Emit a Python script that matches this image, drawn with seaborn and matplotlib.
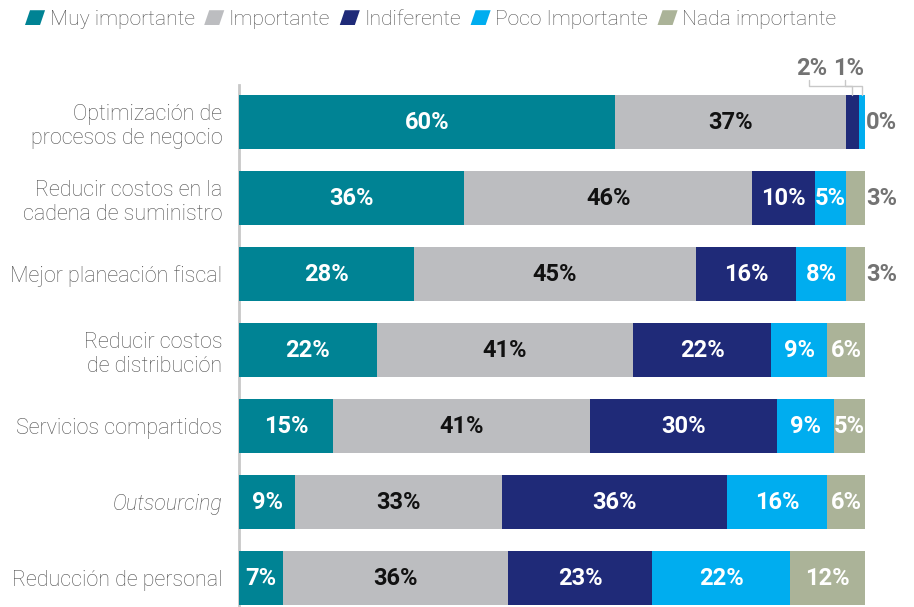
import matplotlib
matplotlib.use("Agg")
import matplotlib.pyplot as plt
from matplotlib.patches import Polygon, Patch
from matplotlib.legend_handler import HandlerPatch
import numpy as np
import pandas as pd
import seaborn as sns

categories = [
    "Optimización de\nprocesos de negocio",
    "Reducir costos en la\ncadena de suministro",
    "Mejor planeación fiscal",
    "Reducir costos\nde distribución",
    "Servicios compartidos",
    "Outsourcing",
    "Reducción de personal",
]
series_names = ["Muy importante", "Importante", "Indiferente",
                "Poco Importante", "Nada importante"]
muy_importante = [60, 36, 28, 22, 15, 9, 7]
importante = [37, 46, 45, 41, 41, 33, 36]
indiferente = [2, 10, 16, 22, 30, 36, 23]
poco_importante = [1, 5, 8, 9, 9, 16, 22]
nada_importante = [0, 3, 3, 6, 5, 6, 12]

colors = ["#008394", "#BCBDC0", "#1F2A78", "#00ADEF", "#ABB398"]
text_colors = ["white", "#111111", "white", "white", "white"]
outside_color = "#737373"
label_color = "#505050"

values = np.array([muy_importante, importante, indiferente,
                   poco_importante, nada_importante], dtype=float)
cum = values.cumsum(axis=0)

sns.set_theme(style="white")
plt.rcParams["font.family"] = ["Roboto", "DejaVu Sans"]

fig = plt.figure(figsize=(9.14, 6.07), dpi=100)
ax = fig.add_axes([239 / 914, 0, 626 / 914, 1 - 85 / 607])

bar_h = 0.71
val_fs = 17
# Stacked bars: draw cumulative totals from the outermost series inward
for k in range(len(series_names) - 1, -1, -1):
    df = pd.DataFrame({"cat": categories, "x": cum[k]})
    sns.barplot(data=df, x="x", y="cat", orient="h", color=colors[k],
                saturation=1, width=bar_h, linewidth=0, ax=ax, order=categories)

ax.set_xlim(0, 100)
ax.set_ylim(6.38, -0.487)
ax.set_xlabel("")
ax.set_ylabel("")
ax.set_xticks([])
for s in ["top", "right", "bottom"]:
    ax.spines[s].set_visible(False)
ax.spines["left"].set_color("#C8C8C8")
ax.spines["left"].set_linewidth(2)
ax.spines["left"].set_zorder(0)
ax.tick_params(axis="y", length=0, pad=12, labelsize=15.5, labelcolor=label_color)
for lbl in ax.get_yticklabels():
    lbl.set_linespacing(1.2)
    lbl.set_fontweight("light")
    if lbl.get_text() == "Outsourcing":
        lbl.set_fontstyle("italic")

# Value labels
for i in range(len(categories)):
    row = values[:, i]
    small = [k for k in range(len(row)) if row[k] < 4]
    above = [k for k in small if k != len(row) - 1]
    for k in range(len(row)):
        v = row[k]
        txt = f"{int(v)}%"
        center = cum[k, i] - v / 2
        if k not in small:
            ax.text(center, i, txt, ha="center", va="center", fontsize=val_fs,
                    fontweight="bold", color=text_colors[k])
        elif k == len(row) - 1:
            ax.text(100.2, i, txt, ha="left", va="center", fontsize=val_fs,
                    fontweight="bold", color=outside_color, clip_on=False)
    # Labels above the bar with elbow leaders
    if above:
        for j, k in enumerate(above):
            v = row[k]
            center = cum[k, i] - v / 2
            tx = 91.5 + j * 5.8
            ax.text(tx, i - 0.71, f"{int(v)}%", ha="center", va="center",
                    fontsize=val_fs, fontweight="bold", color=outside_color,
                    clip_on=False)
            lx = tx - 0.5
            ax.plot([lx, lx, center, center],
                    [i - 0.55, i - 0.47, i - 0.47, i - bar_h / 2],
                    color="#C8C8C8", lw=1, clip_on=False, zorder=1)


def parallelogram(legend, orig_handle, xdescent, ydescent, width, height, fontsize):
    x0, y0 = -xdescent, -ydescent
    s = 0.25 * width
    return Polygon([(x0, y0), (x0 + width - s, y0), (x0 + width, y0 + height),
                    (x0 + s, y0 + height)], closed=True)


handles = [Patch(facecolor=c, edgecolor="none", label=n)
           for c, n in zip(colors, series_names)]
leg = fig.legend(handles=handles, loc="upper left",
                 bbox_to_anchor=(25 / 914, 1 - 10 / 607), ncol=5, frameon=False,
                 fontsize=15.2, handlelength=0.95, handleheight=0.7,
                 handletextpad=0.22, columnspacing=0.45, borderpad=0,
                 borderaxespad=0,
                 handler_map={Patch: HandlerPatch(patch_func=parallelogram)})
for t in leg.get_texts():
    t.set_color("#555555")
    t.set_fontweight("light")

fig.savefig("out.png", dpi=100)
